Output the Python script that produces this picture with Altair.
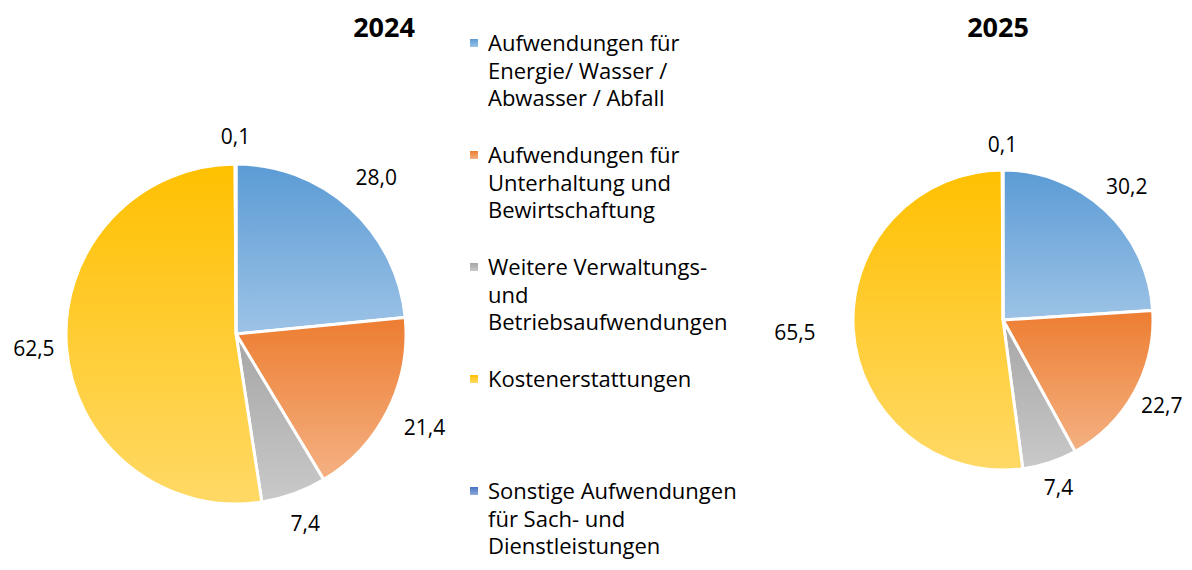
import altair as alt
import pandas as pd

FONT = "Open Sans"

categories = [
    "Aufwendungen für Energie/ Wasser / Abwasser / Abfall",
    "Aufwendungen für Unterhaltung und Bewirtschaftung",
    "Weitere Verwaltungs- und Betriebsaufwendungen",
    "Kostenerstattungen",
    "Sonstige Aufwendungen für Sach- und Dienstleistungen",
]
legend_labels = [
    "Aufwendungen für\nEnergie/ Wasser /\nAbwasser / Abfall",
    "Aufwendungen für\nUnterhaltung und\nBewirtschaftung",
    "Weitere Verwaltungs-\nund\nBetriebsaufwendungen",
    "Kostenerstattungen",
    "Sonstige Aufwendungen\nfür Sach- und\nDienstleistungen",
]
years = ["2024", "2025"]
values_2024 = [28.0, 21.4, 7.4, 62.5, 0.1]
values_2025 = [30.2, 22.7, 7.4, 65.5, 0.1]

# gradient (top, bottom) colours per category
gradient_colors = [
    ("#5B9BD5", "#9DC3E6"),
    ("#ED7D31", "#F4B183"),
    ("#A5A5A5", "#C9C9C9"),
    ("#FFC000", "#FFD966"),
    ("#4472C4", "#8FAADC"),
]

rows = []
for yr, vals in zip(years, [values_2024, values_2025]):
    for i, (c, v) in enumerate(zip(categories, vals)):
        rows.append({"year": yr, "cat": c, "idx": i, "value": v})
df = pd.DataFrame(rows)
leg = pd.DataFrame({"cat": categories, "label": legend_labels, "idx": list(range(len(categories)))})
ydf = pd.DataFrame({"year": years})


def grad(top, bottom):
    return {
        "gradient": "linear", "x1": 0, "y1": 0, "x2": 0, "y2": 1,
        "stops": [{"offset": 0, "color": top}, {"offset": 1, "color": bottom}],
    }


fill_cond = {
    "condition": [
        {"test": f"datum.idx === {i}", "value": grad(*g)}
        for i, g in enumerate(gradient_colors[:-1])
    ],
    "value": grad(*gradient_colors[-1]),
}

OFF = 8  # page margin


def pie(year, cx, cy, r, g, a_right, a_left, b):
    base = (
        alt.Chart(df)
        .transform_filter(f"datum.year === '{year}'")
        .transform_window(cum="sum(value)", sort=[alt.SortField("idx")])
        .transform_joinaggregate(total="sum(value)")
        .transform_calculate(
            t0="2*PI*(datum.cum-datum.value)/datum.total",
            t1="2*PI*datum.cum/datum.total",
        )
        .transform_calculate(
            mid="(datum.t0+datum.t1)/2",
            lab="replace(format(datum.value,'.1f'),'.',',')",
        )
        .transform_calculate(
            lr=f"{r + g} + {a_right}*max(sin(datum.mid),0) + {a_left}*max(-sin(datum.mid),0)"
               f" + {b}*abs(cos(datum.mid))"
        )
    )
    arcs = base.mark_arc(radius=r, stroke="white", strokeWidth=3).encode(
        theta=alt.Theta("t0:Q", scale=None),
        theta2="t1:Q",
        x=alt.value(cx - OFF),
        y=alt.value(cy - OFF),
        fill=fill_cond,
    )
    labels = base.mark_text(font=FONT, fontSize=21, color="#000000").encode(
        theta=alt.Theta("mid:Q", scale=None),
        radius=alt.Radius("lr:Q", scale=None),
        x=alt.value(cx - OFF),
        y=alt.value(cy - OFF),
        text="lab:N",
    )
    title = (
        alt.Chart(ydf)
        .transform_filter(f"datum.year === '{year}'")
        .mark_text(font=FONT, fontSize=27, fontWeight="bold", color="#000000")
        .encode(text="year:N")
    )
    return arcs, labels, title


a1, l1, _t1 = pie("2024", 236, 334, 170, 16, 23, 16, 10)
a2, l2, _t2 = pie("2025", 1003, 320, 150, 14, 14, 44, 10)
t1 = _t1.encode(x=alt.value(384 - OFF), y=alt.value(29 - OFF))
t2 = _t2.encode(x=alt.value(998 - OFF), y=alt.value(29 - OFF))

yscale = alt.Scale(type="point", domain=list(range(len(categories))), range=[43 - OFF, 491 - OFF], padding=0)
leg_text = alt.Chart(leg).mark_text(
    font=FONT, fontSize=22, align="left", baseline="alphabetic", lineBreak="\n", lineHeight=27.5, dy=8, color="#000000"
).encode(
    x=alt.value(488 - OFF),
    y=alt.Y("idx:O", scale=yscale, axis=None),
    text="label:N",
)
leg_sym = alt.Chart(leg).mark_square(size=64, opacity=1).encode(
    x=alt.value(474 - OFF),
    y=alt.Y("idx:O", scale=yscale, axis=None),
    fill=fill_cond,
)

chart = (
    alt.layer(a1, a2, l1, l2, t1, t2, leg_sym, leg_text)
    .properties(width=1176, height=554, padding=0, autosize="none", background="white")
    .configure_view(strokeWidth=0)
)

chart.save("out.html", embed_options={"renderer": "svg", "actions": False})
